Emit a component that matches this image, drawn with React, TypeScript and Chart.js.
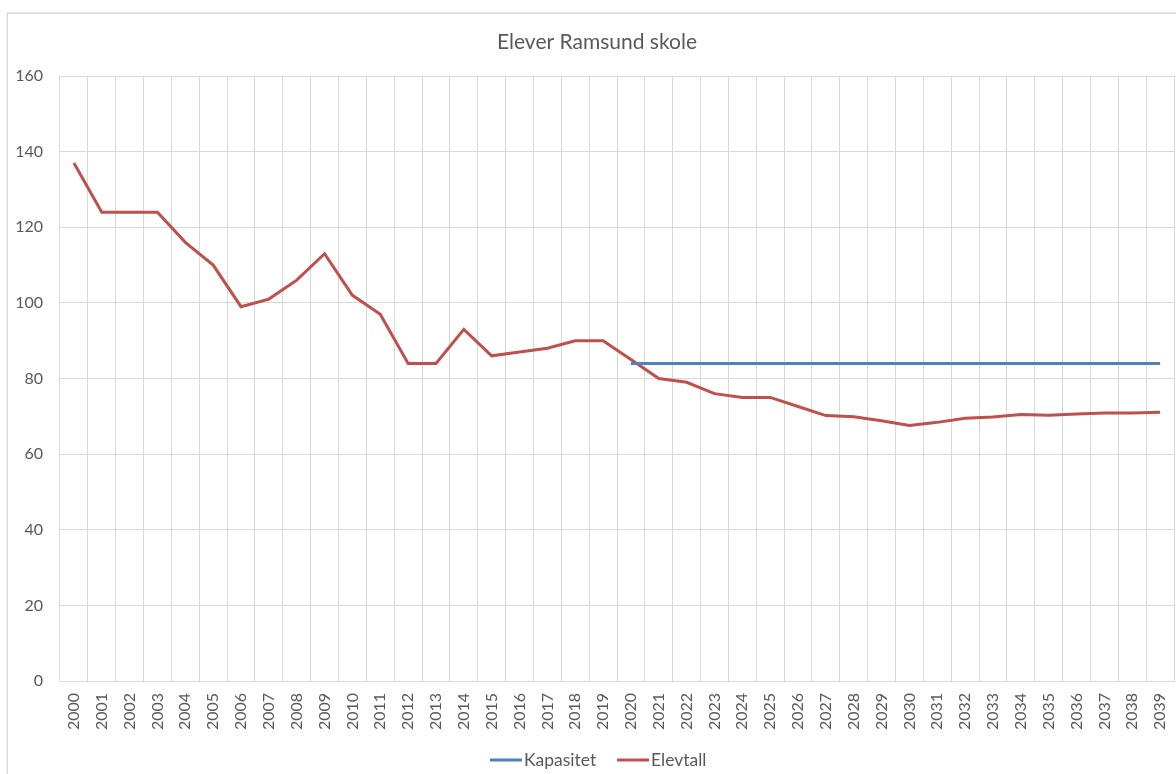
import React, { useEffect, useRef } from "react";
import { Chart, registerables } from "chart.js";

Chart.register(...registerables);

const years: string[] = [];
for (let y = 2000; y <= 2039; y++) years.push(String(y));

const kapasitet: (number | null)[] = [
  null, null, null, null, null, null, null, null, null, null,
  null, null, null, null, null, null, null, null, null, null,
  84, 84, 84, 84, 84, 84, 84, 84, 84, 84,
  84, 84, 84, 84, 84, 84, 84, 84, 84, 84,
];

const elevtall: number[] = [
  137, 124, 124, 124, 116, 110, 99, 101, 106, 113,
  102, 97, 84, 84, 93, 86, 87, 88, 90, 90,
  85, 80, 79, 76, 75, 75, 72.6, 70.2, 69.9, 68.8,
  67.6, 68.4, 69.5, 69.8, 70.5, 70.3, 70.6, 70.9, 70.9, 71.1,
];

const yTicks = { min: 0, max: 160, step: 20 };

const TITLE = "Elever Ramsund skole";
const FONT = "Lato, 'Open Sans', sans-serif";
const TEXT = "#595959";
const GRID = "#d9d9d9";
const BLUE = "#4f81bd";
const RED = "#c0504d";

const decorPlugin = {
  id: "decor",
  beforeDraw(chart: any) {
    const ctx = chart.ctx;
    ctx.save();
    ctx.fillStyle = "#ffffff";
    ctx.fillRect(0, 0, chart.width, chart.height);
    ctx.strokeStyle = GRID;
    ctx.lineWidth = 1.5;
    ctx.strokeRect(7.25, 13.25, 1200, 800);
    ctx.restore();
  },
  afterDraw(chart: any) {
    const ctx = chart.ctx;
    ctx.save();
    ctx.fillStyle = TEXT;
    ctx.font = `21px ${FONT}`;
    ctx.textAlign = "center";
    ctx.textBaseline = "middle";
    ctx.fillText(TITLE, 597, 42);

    // legend
    const items = [
      { label: "Kapasitet", color: BLUE, x: 490 },
      { label: "Elevtall", color: RED, x: 617 },
    ];
    ctx.font = `17.5px ${FONT}`;
    ctx.textAlign = "left";
    for (const it of items) {
      ctx.strokeStyle = it.color;
      ctx.lineWidth = 3;
      ctx.beginPath();
      ctx.moveTo(it.x, 760);
      ctx.lineTo(it.x + 32, 760);
      ctx.stroke();
      ctx.fillStyle = TEXT;
      ctx.fillText(it.label, it.x + 34, 760);
    }
    ctx.restore();
  },
};

export default function App() {
  const ref = useRef<HTMLCanvasElement | null>(null);

  useEffect(() => {
    if (!ref.current) return;
    const chart = new Chart(ref.current, {
      type: "line",
      data: {
        labels: years,
        datasets: [
          {
            label: "Kapasitet",
            data: kapasitet,
            borderColor: BLUE,
            backgroundColor: BLUE,
            borderWidth: 3,
            pointRadius: 0,
            tension: 0,
          },
          {
            label: "Elevtall",
            data: elevtall,
            borderColor: RED,
            backgroundColor: RED,
            borderWidth: 3,
            pointRadius: 0,
            tension: 0,
          },
        ],
      },
      options: {
        responsive: false,
        animation: false,
        devicePixelRatio: 1,
        layout: { padding: { top: 76, left: 0, right: 2, bottom: 0 } },
        plugins: {
          legend: { display: false },
          title: { display: false },
          tooltip: { enabled: false },
        },
        scales: {
          x: {
            type: "category",
            offset: true,
            grid: { offset: true, color: GRID, lineWidth: 1, drawTicks: false },
            border: { color: GRID, width: 1 },
            ticks: {
              autoSkip: false,
              minRotation: 90,
              maxRotation: 90,
              padding: 12,
              color: TEXT,
              font: { family: FONT, size: 16 },
            },
            afterFit(scale: any) {
              scale.height = 93;
              scale.paddingLeft = 0;
              scale.paddingRight = 0;
            },
          },
          y: {
            min: yTicks.min,
            max: yTicks.max,
            ticks: {
              stepSize: yTicks.step,
              padding: 17,
              color: TEXT,
              font: { family: FONT, size: 16 },
            },
            grid: { color: GRID, lineWidth: 1, drawTicks: false },
            border: { display: false },
            afterFit(scale: any) {
              scale.width = 60;
              scale.paddingTop = 0;
              scale.paddingBottom = 0;
            },
          },
        },
      },
      plugins: [decorPlugin],
    } as any);
    return () => chart.destroy();
  }, []);

  return (
    <div style={{ position: "fixed", left: 0, top: 0, width: 1176, height: 774, background: "#fff" }}>
      <canvas ref={ref} width={1176} height={774} style={{ width: 1176, height: 774, display: "block" }} />
    </div>
  );
}
